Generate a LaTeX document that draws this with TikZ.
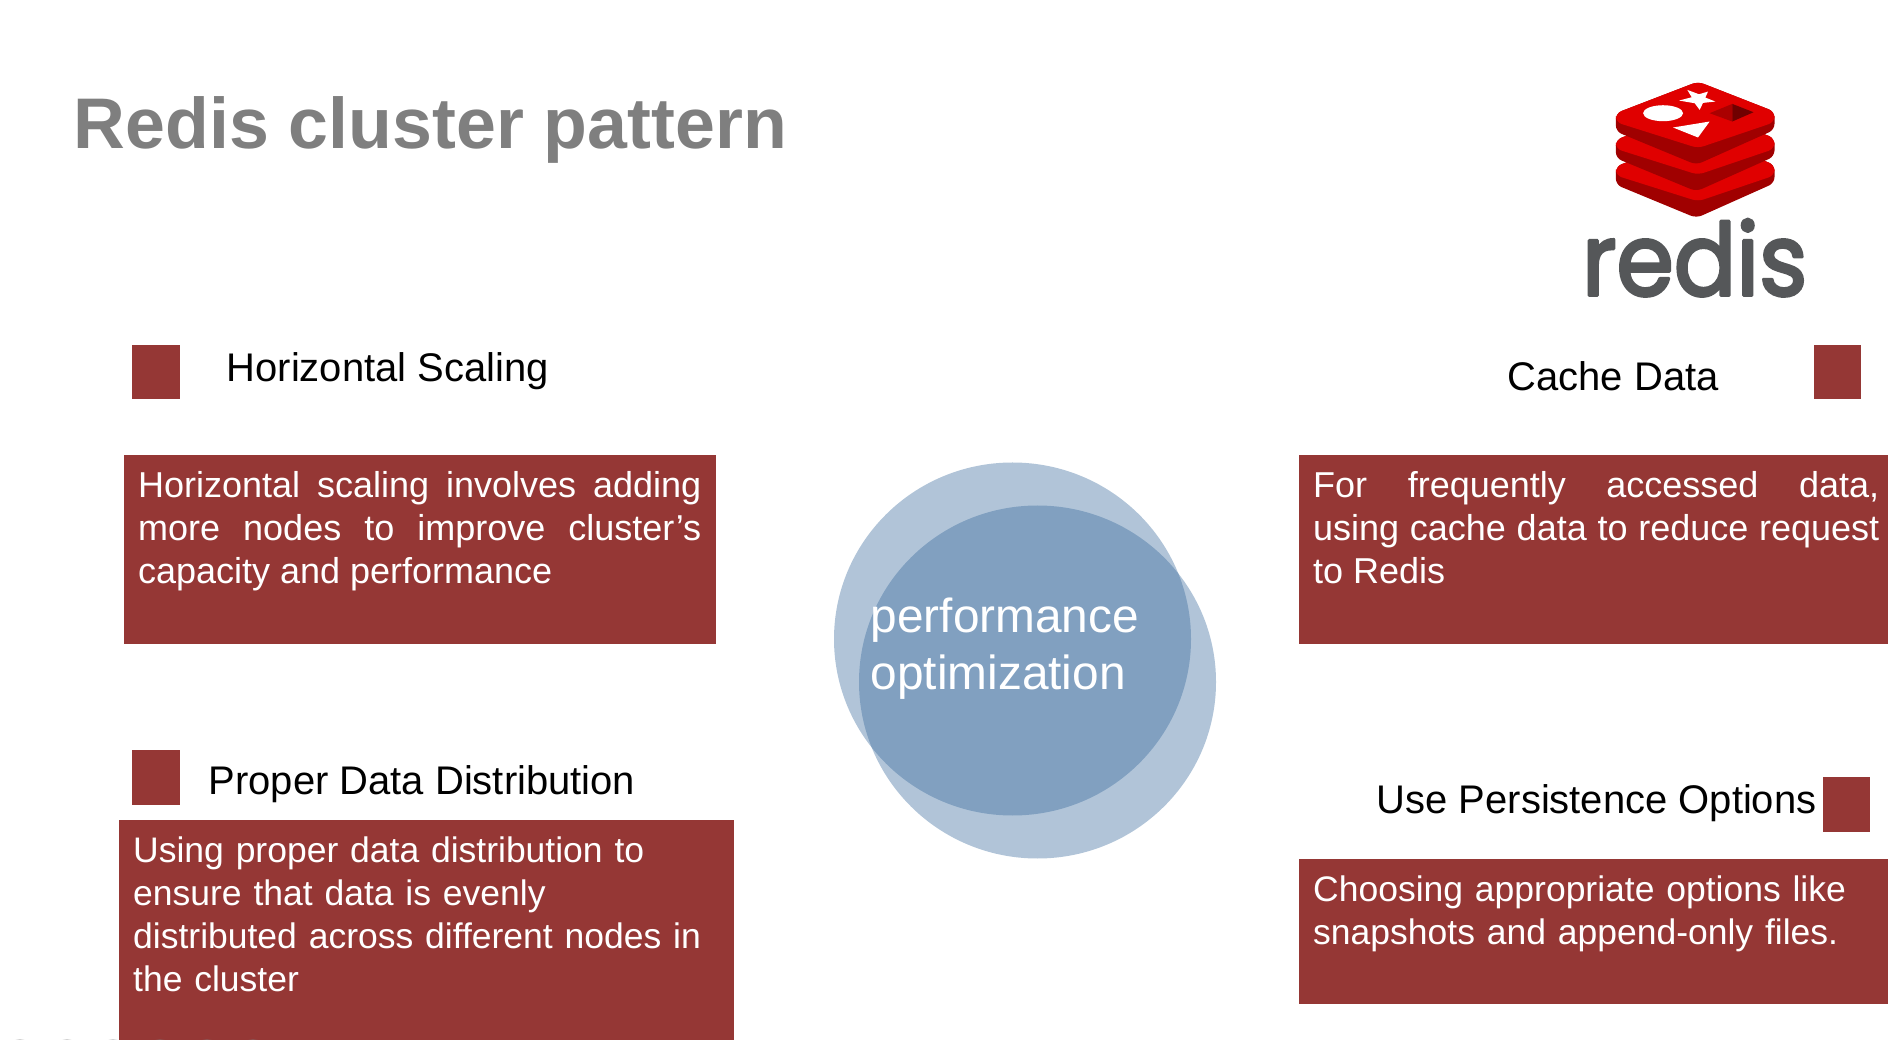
\documentclass[tikz,border=0pt]{standalone}
\usepackage{fontspec}
\setmainfont{Liberation Sans}
\newfontfamily\logofont{Poppins}[RawFeature={embolden=3}]
\definecolor{boxred}{HTML}{953735}
\definecolor{ringblue}{HTML}{34669A}
\definecolor{titlegray}{HTML}{7F7F7F}
\definecolor{logobright}{HTML}{E00000}
\definecolor{logodark}{HTML}{A00000}
\definecolor{logotext}{HTML}{555759}
\tikzset{
	descbox/.style={anchor=north west,fill=boxred,text=white,inner xsep=.145cm,inner ysep=0pt,text height=.425cm,
		font=\fontsize{10.1}{12.3}\selectfont},
	widebox/.style={descbox,align=justify,font=\fontsize{10.24}{12.3}\selectfont},
	marker/.style={anchor=north west,fill=boxred,inner sep=0pt},
	heading/.style={anchor=base west,inner sep=0pt,font=\fontsize{11.37}{13.5}\selectfont},
	ring/.style={fill=ringblue,fill opacity=.385}
}
\begin{document}
\begin{tikzpicture}[line cap=round,line join=round]
	\useasboundingbox (0,0) rectangle (18.88,-10.4);
	\clip (0,0) rectangle (18.88,-10.4);
	\node[anchor=base west,inner sep=0pt,text=titlegray,font=\fontsize{20.4}{24}\selectfont\bfseries] (title) at (.73,-1.49) {Redis cluster pattern};
	\node[marker,minimum width=.48cm,minimum height=.54cm] (markA) at (1.31,-3.44) {};
	\node[marker,minimum width=.48cm,minimum height=.55cm] (markB) at (1.31,-7.49) {};
	\node[marker,minimum width=.47cm,minimum height=.54cm] (markC) at (18.13,-3.44) {};
	\node[marker,minimum width=.47cm,minimum height=.55cm] (markD) at (18.22,-7.76) {};
	\node[heading] (headA) at (2.26,-3.82) {Horizontal Scaling};
	\node[heading] (headB) at (2.08,-7.94) {Proper Data Distribution};
	\node[heading] (headC) at (15.07,-3.91) {Cache Data};
	\node[heading] (headD) at (13.76,-8.13) {Use Persistence Options};
	\node[widebox,text width=5.63cm,text depth=1.465cm] (boxA) at (1.23,-4.54) {Horizontal scaling involves adding\linebreak more nodes to improve cluster’s\linebreak capacity and performance};
	\node[descbox,text width=5.86cm,align=left,text depth=1.9cm] (boxB) at (1.18,-8.19) {Using proper data distribution to\\ensure that data is evenly\\distributed across different nodes in\\the cluster};
	\node[widebox,text width=5.66cm,text depth=1.465cm] (boxC) at (12.98,-4.54) {For frequently accessed data,\linebreak using cache data to reduce request\linebreak to Redis};
	\node[descbox,text width=5.66cm,align=left,text depth=1.025cm] (boxD) at (12.98,-8.58) {Choosing appropriate options like\\snapshots and append-only files.};
	\fill[ring] (10.125,-6.39) ellipse [x radius=1.785,y radius=1.765];
	\fill[ring] (10.375,-6.82) ellipse [x radius=1.785,y radius=1.765];
	\node[anchor=base west,inner sep=0pt,text=white,align=left,font=\fontsize{13.6}{16.2}\selectfont] (centre) at (8.70,-6.89) {performance\\optimization};
	\foreach \x in {.20,.67,1.13,1.60,2.07,2.53}
		\fill[gray,fill opacity=.35] (\x,-10.51) circle (.12);
	\begin{scope}[shift={(15.4,-.6)},x=.003333cm,y=-.003333cm]
		\foreach \dy in {160,80,0} {
			\fill[logodark,rounded corners=.6mm] (228,160+\dy)--(475,65+\dy)--(705,155+\dy)--(705,210+\dy)--(470,315+\dy)--(228,215+\dy)--cycle;
			\fill[logobright,rounded corners=.6mm] (228,160+\dy)--(475,65+\dy)--(705,155+\dy)--(705,187+\dy)--(475,265+\dy)--(228,187+\dy)--cycle;
		}
		\fill[white] (370,160) ellipse [x radius=60,y radius=24];
		\fill[white] (400,203)--(510,185)--(475,233)--cycle;
		\fill[white] (418,122)--(456,112)--(443,90)--(478,103)--(505,95)--(497,113)--(527,125)--(490,129)--(480,150)--(465,130)--cycle;
		\fill[logodark!85!logobright] (510,160)--(578,132)--(578,185)--cycle;
		\fill[logodark!70!black] (578,132)--(642,157)--(578,185)--cycle;
		\node[anchor=base,inner sep=0pt,xscale=.94,yscale=1.02,text=logotext,font=\fontsize{28}{30}\logofont] (logoword) at (465,708) {redis};
	\end{scope}
\end{tikzpicture}
\end{document}
